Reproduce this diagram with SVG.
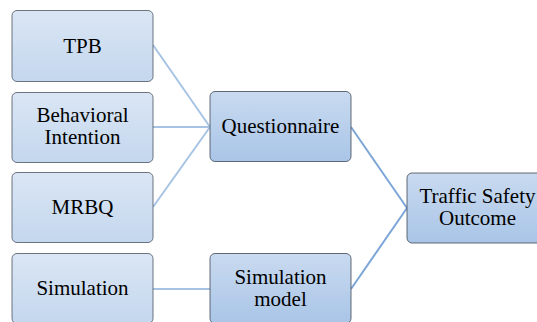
<svg xmlns="http://www.w3.org/2000/svg" width="537" height="322" viewBox="0 0 537 322">
<defs>
<linearGradient id="gL" x1="0" y1="0" x2="0" y2="1"><stop offset="0" stop-color="#dae6f4"/><stop offset="1" stop-color="#c4d7ee"/></linearGradient>
<linearGradient id="gR" x1="0" y1="0" x2="0" y2="1"><stop offset="0" stop-color="#c9daf0"/><stop offset="1" stop-color="#a9c5e7"/></linearGradient>
</defs>
<style>
.bl{fill:url(#gL);stroke:#4a5360;stroke-width:0.8}
.br{fill:url(#gR);stroke:#3f4854;stroke-width:0.8}
.cl{stroke:#a8c4e4;stroke-width:2;fill:none}
.cr{stroke:#7ca5d8;stroke-width:2;fill:none}
</style>
<g id="connectors">
<line class="cl" x1="153" y1="45" x2="210" y2="127"/>
<line class="cl" x1="153" y1="127" x2="210" y2="127"/>
<line class="cl" x1="153" y1="207" x2="210" y2="127"/>
<line class="cl" x1="153" y1="289" x2="210" y2="289"/>
<line class="cr" x1="351" y1="127" x2="407" y2="208"/>
<line class="cr" x1="351" y1="289" x2="407" y2="208"/>
</g>
<g id="tpb"><rect class="bl" x="12" y="10.5" width="141" height="71" rx="5"/><text style="font-family:'Liberation Serif','Times New Roman',serif !important;font-size:21px;text-anchor:middle" x="82.5" y="53">TPB</text></g>
<g id="behavioral"><rect class="bl" x="12" y="92.5" width="141" height="70" rx="5"/><text style="font-family:'Liberation Serif','Times New Roman',serif !important;font-size:21px;text-anchor:middle" x="82.5" y="122">Behavioral</text><text style="font-family:'Liberation Serif','Times New Roman',serif !important;font-size:21px;text-anchor:middle" x="82.5" y="144">Intention</text></g>
<g id="mrbq"><rect class="bl" x="12" y="172.5" width="141" height="70" rx="5"/><text style="font-family:'Liberation Serif','Times New Roman',serif !important;font-size:21px;text-anchor:middle" x="82.5" y="214">MRBQ</text></g>
<g id="simulation"><rect class="bl" x="12" y="253.5" width="141" height="70" rx="5"/><text style="font-family:'Liberation Serif','Times New Roman',serif !important;font-size:21px;text-anchor:middle" x="82.5" y="295">Simulation</text></g>
<g id="questionnaire"><rect class="br" x="210" y="91.5" width="141" height="70" rx="5"/><text style="font-family:'Liberation Serif','Times New Roman',serif !important;font-size:21px;text-anchor:middle" x="280.5" y="133">Questionnaire</text></g>
<g id="simmodel"><rect class="br" x="210" y="253.5" width="141" height="70" rx="5"/><text style="font-family:'Liberation Serif','Times New Roman',serif !important;font-size:21px;text-anchor:middle" x="280.5" y="284">Simulation</text><text style="font-family:'Liberation Serif','Times New Roman',serif !important;font-size:21px;text-anchor:middle" x="280.5" y="306">model</text></g>
<g id="outcome"><rect class="br" x="407" y="173" width="141" height="70" rx="5"/><text style="font-family:'Liberation Serif','Times New Roman',serif !important;font-size:21px;text-anchor:middle" x="477.5" y="203">Traffic Safety</text><text style="font-family:'Liberation Serif','Times New Roman',serif !important;font-size:21px;text-anchor:middle" x="477.5" y="225">Outcome</text></g>
</svg>
